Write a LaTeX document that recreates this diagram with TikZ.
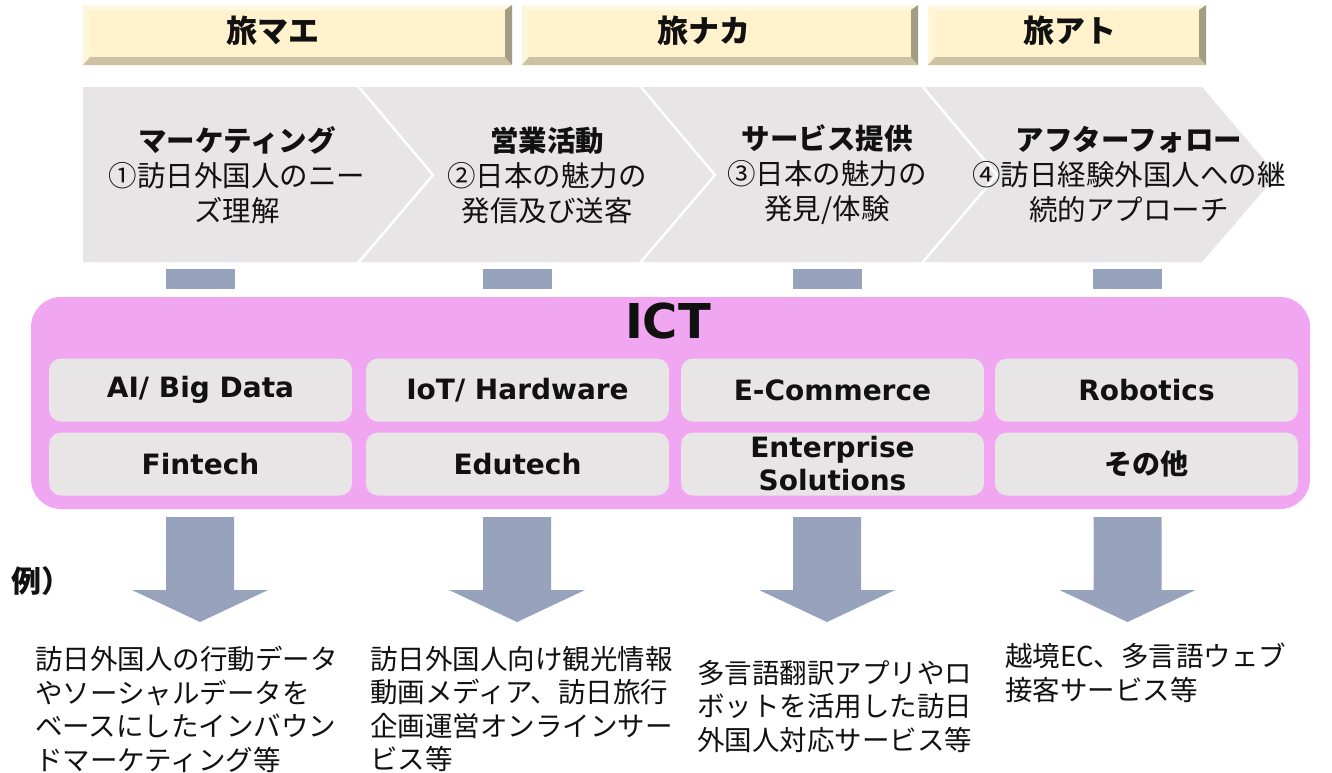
\documentclass[tikz,border=0pt]{standalone}
\usepackage{fontspec}
\setmainfont{Noto Sans CJK JP}
\newfontfamily\latf{DejaVu Sans}
\newfontfamily\jpf{Noto Sans CJK JP}
\usetikzlibrary{calc}
\definecolor{hdrface}{HTML}{FFF2CC}
\definecolor{hdrtop}{HTML}{FFF8E4}
\definecolor{hdrleft}{HTML}{FFF5D8}
\definecolor{hdrbot}{HTML}{CDC2A3}
\definecolor{hdrright}{HTML}{A39C84}
\definecolor{chevgrey}{HTML}{E7E5E6}
\definecolor{boxgrey}{HTML}{E7E5E6}
\definecolor{stubcol}{HTML}{97A3BD}
\definecolor{ictpink}{HTML}{F1A6F1}
\definecolor{txtcol}{HTML}{111111}
\newcommand\hdrbox[5]{%
  \fill[hdrface] (#1,5) rectangle (#2,65);
  \fill[hdrtop] (#1,5) -- (#2,5) -- (#2-7,10) -- (#1+7,10) -- cycle;
  \fill[hdrleft] (#1,5) -- (#1+7,10) -- (#1+7,57) -- (#1,65) -- cycle;
  \fill[hdrbot] (#1,65) -- (#1+7,57) -- (#2-7,57) -- (#2,65) -- cycle;
  \fill[hdrright] (#2,5) -- (#2,65) -- (#2-7,57) -- (#2-7,10) -- cycle;
  \node[hdrtxt] (#3) at (#5,31) {#4};%
}
\newcommand\dnarrow[2]{%
  \coordinate (#2) at (#1,517);
  \fill[stubcol] (#1-34,517) -- (#1+34,517) -- (#1+34,590) -- (#1+68,590) -- (#1,622) -- (#1-68,590) -- (#1-34,590) -- cycle;%
}
\begin{document}
\begin{tikzpicture}[x=1pt,y=-1pt,
  hdrtxt/.style={font=\fontsize{31}{35}\selectfont\bfseries, inner sep=0, text=txtcol},
  chevtxt/.style={align=center, inner sep=0, text=txtcol, font=\fontsize{28.5}{35}\selectfont},
  techbox/.style={fill=boxgrey, rounded corners=12pt, minimum width=303pt, minimum height=63pt, inner sep=0, align=center, text=txtcol, font=\latf\bfseries\fontsize{28}{33}\selectfont},
  stubbox/.style={fill=stubcol, minimum width=69pt, minimum height=20pt, inner sep=0},
  bottxt/.style={anchor=north west, align=left, inner sep=0, text=txtcol, font=\fontsize{27.5}{33.5}\selectfont}
]
\fill[white] (0,0) rectangle (1332,772);
\useasboundingbox (0,0) rectangle (1332,772);

% header boxes
\hdrbox{83}{512}{h1}{旅マエ}{273}
\hdrbox{522}{918}{h2}{旅ナカ}{704}
\hdrbox{928}{1206}{h3}{旅アト}{1070}

% chevrons
\fill[chevgrey] (83,87) -- (1202,87) -- (1277,175) -- (1202,262) -- (83,262) -- cycle;
\foreach \sx in {358,640,922}{
  \draw[white, line width=2.5pt] (\sx,86) -- (\sx+75,175) -- (\sx,263);
}
\node[chevtxt] (c1) at (237,175) {{\bfseries マーケティング}\\①訪日外国人のニー\\ズ理解};
\node[chevtxt] (c2) at (547,175) {{\bfseries 営業活動}\\②日本の魅力の\\発信及び送客};
\node[chevtxt] (c3) at (827,175) {{\bfseries サービス提供}\\③日本の魅力の\\発見/体験};
\node[chevtxt] (c4) at (1129,175) {{\bfseries アフターフォロー}\\④訪日経験外国人への継\\続的アプローチ};

% stubs
\node[stubbox] (s1) at (200,279) {};
\node[stubbox] (s2) at (517,279) {};
\node[stubbox] (s3) at (827,279) {};
\node[stubbox] (s4) at (1127.5,279) {};

% ICT box
\fill[ictpink, rounded corners=30pt] (31,297) rectangle (1310,509);
\node[inner sep=0, text=txtcol, font=\latf\bfseries\fontsize{48}{50}\selectfont] (ict) at (668,321) {ICT};
\node[techbox] (t1) at (200.5,390) {AI/ Big Data};
\node[techbox] (t2) at (517.5,390) {IoT/ Hardware};
\node[techbox] (t3) at (832.5,390) {E-Commerce};
\node[techbox] (t4) at (1146.5,390) {Robotics};
\node[techbox] (t5) at (200.5,464) {Fintech};
\node[techbox] (t6) at (517.5,464) {Edutech};
\node[techbox] (t7) at (832.5,464) {Enterprise\\Solutions};
\node[techbox, font=\jpf\bfseries\fontsize{28}{33}\selectfont] (t8) at (1146.5,464) {その他};

% arrows
\dnarrow{200}{a1}
\dnarrow{517}{a2}
\dnarrow{827}{a3}
\dnarrow{1127.5}{a4}

% examples
\node[anchor=west, inner sep=0, text=txtcol, font=\fontsize{30}{34}\selectfont\bfseries] (rei) at (11,581) {例）};
\node[bottxt] (b1) at (35,646) {訪日外国人の行動データ\\やソーシャルデータを\\ベースにしたインバウン\\ドマーケティング等};
\node[bottxt] (b2) at (370,646) {訪日外国人向け観光情報\\動画メディア、訪日旅行\\企画運営オンラインサー\\ビス等};
\node[bottxt] (b3) at (697,660) {多言語翻訳アプリやロ\\ボットを活用した訪日\\外国人対応サービス等};
\node[bottxt] (b4) at (1005,643) {越境EC、多言語ウェブ\\接客サービス等};
\end{tikzpicture}
\end{document}
